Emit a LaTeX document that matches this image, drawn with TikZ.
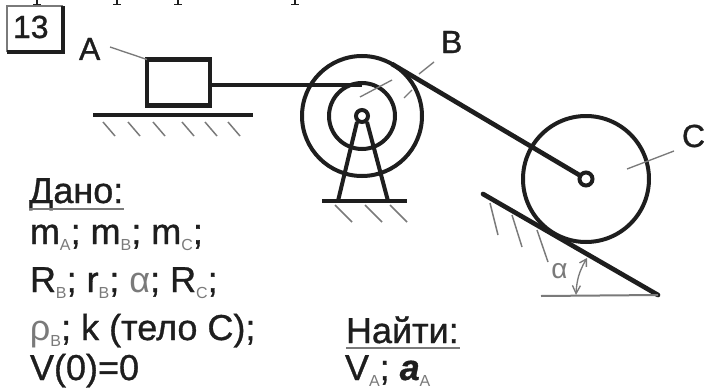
\documentclass[tikz,border=0pt]{standalone}
\usepackage{fontspec}
\setmainfont[RawFeature={embolden=0.9}]{Liberation Sans}
\newfontfamily\plainface{Liberation Sans}
\usetikzlibrary{arrows.meta}
\definecolor{ink}{HTML}{1E1E1E}
\definecolor{soft}{HTML}{7A7A7A}
\newcommand{\lowsub}[1]{\raisebox{-0.32ex}{\plainface\fontsize{12}{14}\selectfont\color{soft}#1}}
\tikzset{
  thick line/.style={draw=ink,line width=3.5pt},
  body line/.style={draw=ink,line width=3pt},
  hatch/.style={draw=soft,line width=1.1pt},
  leader/.style={draw=soft,line width=1pt},
  big label/.style={anchor=base west,inner sep=0pt,outer sep=0pt,text=ink,font=\fontsize{24}{28}\selectfont},
  given/.style={anchor=base west,inner sep=0pt,outer sep=0pt,text=ink,font=\fontsize{27}{32}\selectfont},
  rule line/.style={draw=soft,line width=1.8pt},
}
\begin{document}
\begin{tikzpicture}[x=0.75pt,y=-0.75pt]
\useasboundingbox (0,0) rectangle (704,389);
\fill[white] (0,0) rectangle (704,389);
% clipped text feet at the top edge
\foreach \px in {37,117,178,295}{
  \draw[ink,line width=1pt] (\px,0) -- (\px,4);
  \draw[ink,line width=1pt] (\px-4,4.5) -- (\px+4,4.5);
}
% number box
\draw[soft,line width=0.9pt] (7,52) -- (7,6) -- (63,6);
\draw[thick line] (7,52) -- (63,52) -- (63,6);
\node[big label] (num) at (13,38) {13};
% body A
\node[draw=ink,line width=3.5pt,fill=white,minimum width=47.25pt,minimum height=34.5pt,inner sep=0pt,outer sep=0pt] (blockA) at (178.5,82.5) {};
\coordinate (planeAl) at (93,115);
\coordinate (planeAr) at (253,115);
\draw[thick line] (planeAl) -- (planeAr);
\foreach \px in {103,128,153,182,205,228}{
  \draw[hatch] (\px,122) -- (\px+12,136);
}
\node[big label] (labA) at (79,60) {A};
\coordinate (leadA) at (110,47);
\draw[leader] (leadA) -- (blockA.north west);
% pulley B
\coordinate (B) at (362,116);
\draw[body line] (B) circle (60);
\draw[body line] (B) circle (33);
% stand
\coordinate (baseL) at (322,201);
\coordinate (baseR) at (407,201);
\draw[body line] (357,122) -- (338,201);
\draw[body line] (367,122) -- (388,201);
\draw[thick line] (baseL) -- (baseR);
\foreach \px in {335,365,390}{
  \draw[hatch] (\px,205) -- (\px+17,222);
}
\draw[body line,fill=white] (B) circle (6);
% leaders for B
\node[big label] (labB) at (441,53) {B};
\coordinate (leadB) at (434,62);
\draw[leader] (360,97) -- (392,80);
\draw[leader] (404,98) -- (412,90);
\draw[leader] (419,74) -- (leadB);
% body C
\coordinate (C) at (586,179);
\draw[body line] (C) circle (63);
% cords
\coordinate (cordEnd) at (362,85);
\draw[thick line] (blockA.east |- cordEnd) -- (cordEnd);
\coordinate (tanB) at (392,64);
\draw[thick line] (tanB) -- (C);
\draw[body line,fill=white] (C) circle (6.5);
% incline
\coordinate (inclTop) at (483,194);
\coordinate (inclEnd) at (658,295);
\draw[thick line,line cap=round] (inclTop) -- (inclEnd);
\draw[hatch] (490,203) -- (498,235);
\draw[hatch] (512,215) -- (522,247);
\draw[hatch] (537,230) -- (548,262);
\draw[draw=soft,line width=1.5pt] (541,296) -- (inclEnd);
\draw[soft,line width=1pt,{Straight Barb[length=5pt,width=6pt]}-{Straight Barb[length=6pt,width=6pt]}] (587,258) to[bend right=14] (576,295);
\node[anchor=base west,inner sep=0pt,text=soft,font=\plainface\fontsize{21}{24}\selectfont] (alpha) at (551,278) {α};
% C label
\node[big label] (labC) at (682,147) {C};
\coordinate (leadC) at (674,151);
\draw[leader] (leadC) -- (627,169);
% given
\node[given] (dano) at (29,203) {Дано:};
\draw[rule line] (29,209) -- (124,209);
\node[given] (l1) at (30,244) {m\lowsub{A}; m\lowsub{B}; m\lowsub{C};};
\node[given] (l2) at (30,292) {R\lowsub{B}; r\lowsub{B}; {\plainface\color{soft}α}; R\lowsub{C};};
\node[given] (l3) at (30,340) {{\plainface\color{soft}ρ}\lowsub{B}; k (тело С);};
\node[given] (l4) at (30,380) {V(0)=0};
\node[given] (find) at (346,343) {Найти:};
\draw[rule line] (346,348) -- (460,348);
\node[given] (l5) at (345,380) {V\lowsub{A}; {\bfseries\itshape a}\lowsub{A}};
\end{tikzpicture}
\end{document}
